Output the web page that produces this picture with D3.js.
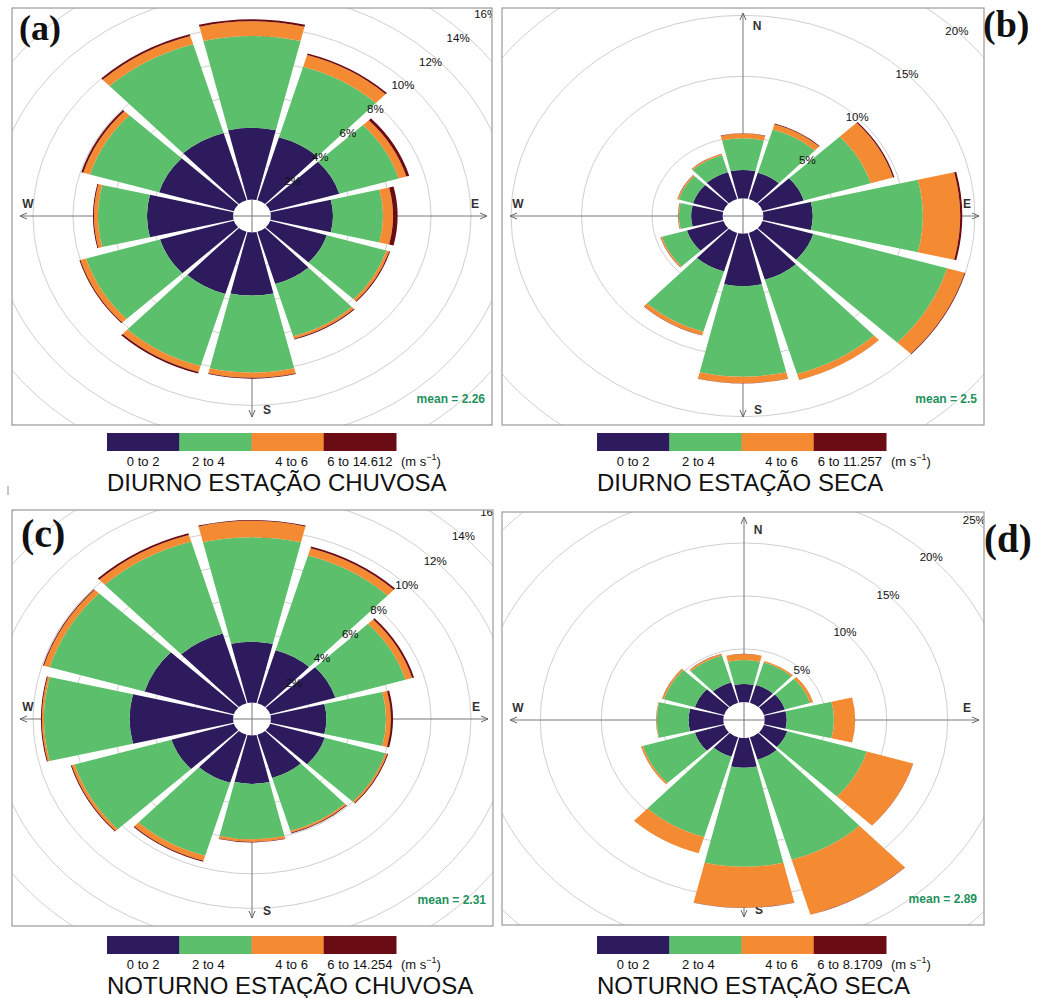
<!DOCTYPE html>
<html>
<head>
<meta charset="utf-8">
<script src="https://d3js.org/d3.v7.min.js"></script>
<style>
  body { margin: 0; background: #fff; }
  text { font-family: "Liberation Sans", Arial, sans-serif; }
  text.tag { font-family: "Liberation Serif", "Times New Roman", serif; font-weight: bold; }
</style>
</head>
<body>
<script>
// wind directions (deg, clockwise from N) and speed bins
var directions = [0, 30, 60, 90, 120, 150, 180, 210, 240, 270, 300, 330];
var speedBins = ["0 to 2", "2 to 4", "4 to 6"];
var binColors = ["#2d1b5e", "#5bbf6b", "#f48b32", "#6b0b13"];

// frequency (%) per direction, one row per speed bin
var diurnoChuvosa = [
    [4.15, 3.8, 3.6, 3.1, 2.95, 3.15, 3.65, 3.75, 3.85, 4.3, 3.9, 4.05],
    [5.3, 4.25, 3.1, 2.5, 3.1, 3.15, 4.45, 4.35, 3.85, 2.45, 3.6, 5.35],
    [0.85, 0.7, 0.4, 0.5, 0.15, 0.15, 0.3, 0.35, 0.3, 0.2, 0.35, 0.5],
    [0.12, 0.1, 0.15, 0.23, 0.05, 0.05, 0.05, 0.1, 0.05, 0.05, 0.1, 0.1]
];
var diurnoSeca = [
    [2.32, 2.25, 3.05, 3.5, 3.75, 4.0, 4.3, 3.3, 2.7, 2.23, 2.25, 2.3],
    [2.6, 3.7, 4.95, 7.8, 9.9, 8.05, 7.42, 5.15, 1.85, 0.87, 1.05, 1.45],
    [0.38, 0.45, 1.65, 2.65, 1.3, 0.5, 0.53, 0.3, 0.1, 0.05, 0.1, 0.1],
    [0.03, 0.05, 0.1, 0.15, 0.05, 0.02, 0.02, 0.02, 0.02, 0.02, 0.02, 0.02]
];
var noturnoChuvosa = [
    [3.52, 3.2, 3.4, 2.77, 2.85, 2.6, 2.8, 2.9, 3.25, 5.17, 4.65, 4.2],
    [6.03, 5.7, 3.65, 2.98, 3.15, 3.2, 3.2, 4.4, 5.05, 4.28, 4.95, 5.55],
    [0.95, 0.45, 0.35, 0.25, 0.1, 0.1, 0.15, 0.3, 0.15, 0.1, 0.3, 0.4],
    [0.05, 0.1, 0.1, 0.1, 0.05, 0.05, 0.03, 0.05, 0.05, 0.05, 0.05, 0.1]
];
var noturnoSeca = [
    [1.7, 1.75, 1.8, 1.8, 2.0, 2.2, 2.8, 1.9, 2.5, 2.84, 2.5, 2.0],
    [2.26, 2.2, 2.15, 3.87, 6.8, 9.85, 9.34, 7.9, 4.45, 2.61, 2.65, 2.65],
    [0.57, 0.15, 0.25, 1.73, 3.95, 5.4, 3.86, 1.6, 0.15, 0.05, 0.15, 0.15],
    [0.01, 0.01, 0.01, 0.01, 0.02, 0.02, 0.02, 0.01, 0.01, 0.01, 0.01, 0.01]
];

var maxSpeeds = ["14.612", "11.257", "14.254", "8.1709"];
var means = ["2.26", "2.5", "2.31", "2.89"];
var ringTicksA = [2, 4, 6, 8, 10, 12, 14, 16];
var ringTicksB = [5, 10, 15, 20];
var ringTicksD = [5, 10, 15, 20, 25];
var titles = ["DIURNO ESTAÇÃO CHUVOSA", "DIURNO ESTAÇÃO SECA",
              "NOTURNO ESTAÇÃO CHUVOSA", "NOTURNO ESTAÇÃO SECA"];
var panelLetters = ["(a)", "(b)", "(c)", "(d)"];

// panel geometry (frame, centre, x/y stretch per %, hole size in %)
var panels = [
    {left: 12, top: 8, w: 480, h: 417, cx: 252, cy: 216, kx: 20, ky: 17.3, off: 0.95, nTip: 16, lab: 0.975,
     legX: 107, legY: 433, tagX: 19, tagY: 40, tagSize: 36},
    {left: 502, top: 8, w: 482, h: 417, cx: 743, cy: 216, kx: 14.1, ky: 12.2, off: 1.45, nTip: 5, lab: 1,
     legX: 597, legY: 433, tagX: 983, tagY: 37, tagSize: 38},
    {left: 12, top: 510, w: 481, h: 416, cx: 252, cy: 719, kx: 20, ky: 17.3, off: 0.95, nTip: 16, lab: 1,
     legX: 107, legY: 936, tagX: 21, tagY: 547, tagSize: 40},
    {left: 502, top: 512, w: 482, h: 413, cx: 744, cy: 720, kx: 12.2, ky: 10.6, off: 1.7, nTip: 5, lab: 1,
     legX: 597, legY: 936, tagX: 984, tagY: 552, tagSize: 39}
];

var svg = d3.select("body").append("svg")
    .attr("width", 1046)
    .attr("height", 998);

var defs = svg.append("defs");

// small open arrow heads for the compass axes
defs.append("marker")
    .attr("id", "arrow")
    .attr("viewBox", "0 -4 8 8")
    .attr("refX", 7)
    .attr("refY", 0)
    .attr("markerWidth", 8)
    .attr("markerHeight", 8)
    .attr("markerUnits", "userSpaceOnUse")
    .attr("orient", "auto")
    .append("path")
    .attr("d", "M0,-3L7,0L0,3")
    .attr("fill", "none")
    .attr("stroke", "#666")
    .attr("stroke-width", 1);

var angle = d3.scaleLinear().domain([0, 360]).range([0, 2 * Math.PI]);
var binKeys = ["b0", "b1", "b2", "b3"];

function drawRose(i, freq, ticks) {
    var p = panels[i];

    defs.append("clipPath")
        .attr("id", "clip" + i)
        .append("rect")
        .attr("x", p.left).attr("y", p.top)
        .attr("width", p.w).attr("height", p.h);

    // radius in % units, shifted by the hole
    var r = d3.scaleLinear().domain([0, 10]).range([p.off, p.off + 10]);

    var g = svg.append("g").attr("clip-path", "url(#clip" + i + ")");

    // grid rings
    g.selectAll("ellipse")
        .data(ticks)
        .enter().append("ellipse")
        .attr("cx", p.cx).attr("cy", p.cy)
        .attr("rx", function(d){ return r(d) * p.kx; })
        .attr("ry", function(d){ return r(d) * p.ky; })
        .attr("fill", "none")
        .attr("stroke", "#cfcfcf")
        .attr("stroke-width", 1);

    // compass axes (drawn under the bars)
    var tips = [
        {x: p.left + 8, y: p.cy, name: "W", lx: p.left + 16, ly: p.cy - 12},
        {x: p.left + p.w - 5, y: p.cy, name: "E", lx: p.left + p.w - 17, ly: p.cy - 12},
        {x: p.cx, y: p.top + p.h - 8, name: "S", lx: p.cx + 15, ly: p.top + p.h - 15},
        {x: p.cx, y: p.top + p.nTip, name: "N", lx: p.cx + 14, ly: p.top + p.nTip + 13}
    ];
    g.selectAll("line.axis")
        .data(tips)
        .enter().append("line")
        .attr("class", "axis")
        .attr("x1", p.cx).attr("y1", p.cy)
        .attr("x2", function(d){ return d.x; })
        .attr("y2", function(d){ return d.y; })
        .attr("stroke", "#777")
        .attr("stroke-width", 1)
        .attr("marker-end", "url(#arrow)");

    g.selectAll("text.dir")
        .data(tips)
        .enter().append("text")
        .attr("class", "dir")
        .attr("x", function(d){ return d.lx; })
        .attr("y", function(d){ return d.ly; })
        .attr("dy", "0.35em")
        .attr("text-anchor", "middle")
        .attr("font-size", 12)
        .attr("font-weight", "bold")
        .attr("fill", "#333")
        .text(function(d){ return d.name; });

    // stacked bars
    var rows = directions.map(function(dir, k){
        var row = {dir: dir};
        binKeys.forEach(function(key, j){ row[key] = freq[j][k]; });
        return row;
    });
    var series = d3.stack().keys(binKeys)(rows);

    var arc = d3.arc()
        .innerRadius(function(d){ return r(d[0]); })
        .outerRadius(function(d){ return r(d[1]); })
        .startAngle(function(d){ return angle(d.data.dir - 13.5); })
        .endAngle(function(d){ return angle(d.data.dir + 13.5); });

    g.append("g")
        .attr("transform", "translate(" + p.cx + "," + p.cy + ") scale(" + p.kx + "," + p.ky + ")")
        .selectAll("g")
        .data(series)
        .enter().append("g")
        .attr("fill", function(d, j){ return binColors[j]; })
        .selectAll("path")
        .data(function(d){ return d; })
        .enter().append("path")
        .attr("d", arc);

    // ring labels along the NE diagonal
    g.selectAll("text.pct")
        .data(ticks)
        .enter().append("text")
        .attr("class", "pct")
        .attr("x", function(d){ return p.cx + r(d) * p.kx * Math.SQRT1_2 * p.lab; })
        .attr("y", function(d){ return p.cy - r(d) * p.ky * Math.SQRT1_2 * p.lab; })
        .attr("dy", "0.35em")
        .attr("text-anchor", "middle")
        .attr("font-size", 11.5)
        .attr("fill", "#111")
        .text(function(d){ return d + "%"; });

    // frame
    svg.append("rect")
        .attr("x", p.left).attr("y", p.top)
        .attr("width", p.w).attr("height", p.h)
        .attr("fill", "none")
        .attr("stroke", "#9a9a9a")
        .attr("stroke-width", 1.2);

    svg.append("text")
        .attr("x", p.left + p.w - 7)
        .attr("y", p.top + p.h - 22)
        .attr("text-anchor", "end")
        .attr("font-size", 12)
        .attr("font-weight", "bold")
        .attr("fill", "#23915c")
        .text("mean = " + means[i]);

    svg.append("text")
        .attr("class", "tag")
        .attr("x", p.tagX)
        .attr("y", p.tagY)
        .attr("font-size", p.tagSize)
        .attr("fill", "#111")
        .text(panelLetters[i]);
}

function drawLegend(i) {
    var p = panels[i];
    var labels = speedBins.concat(["6 to " + maxSpeeds[i]]);
    var nudge = [0, -7, 4, 0];

    var x = d3.scaleBand()
        .domain(labels)
        .range([p.legX, p.legX + 289]);

    var leg = svg.append("g");

    leg.selectAll("rect")
        .data(labels)
        .enter().append("rect")
        .attr("x", function(d){ return x(d); })
        .attr("y", p.legY)
        .attr("width", x.bandwidth() + 0.5)
        .attr("height", 18)
        .attr("fill", function(d, j){ return binColors[j]; });

    leg.selectAll("text.bin")
        .data(labels)
        .enter().append("text")
        .attr("class", "bin")
        .attr("x", function(d, j){ return x(d) + x.bandwidth() / 2 + nudge[j]; })
        .attr("y", p.legY + 33)
        .attr("text-anchor", "middle")
        .attr("font-size", 13)
        .attr("fill", "#111")
        .text(function(d){ return d; });

    var unit = leg.append("text")
        .attr("x", p.legX + 289 + 5)
        .attr("y", p.legY + 33)
        .attr("font-size", 13)
        .attr("fill", "#111");
    unit.append("tspan").text("(m s");
    unit.append("tspan").attr("dy", -6).attr("font-size", 9).text("\u22121");
    unit.append("tspan").attr("dy", 6).text(")");

    leg.append("text")
        .attr("x", p.legX)
        .attr("y", p.legY + 58)
        .attr("font-size", 24)
        .attr("fill", "#111")
        .text(titles[i]);
}

drawRose(0, diurnoChuvosa, ringTicksA);
drawRose(1, diurnoSeca, ringTicksB);
drawRose(2, noturnoChuvosa, ringTicksA);
drawRose(3, noturnoSeca, ringTicksD);

[0, 1, 2, 3].forEach(drawLegend);

// stray tick mark left of the lower row in the original figure
svg.append("line")
    .attr("x1", 8).attr("x2", 8)
    .attr("y1", 486).attr("y2", 495)
    .attr("stroke", "#888")
    .attr("stroke-width", 1);
</script>
</body>
</html>
